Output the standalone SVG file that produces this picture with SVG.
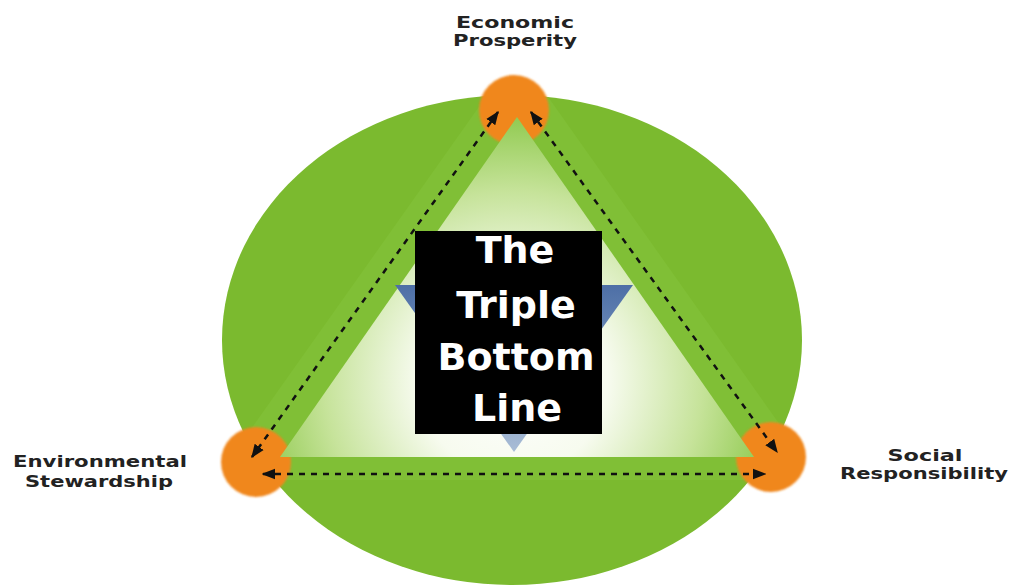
<svg xmlns="http://www.w3.org/2000/svg" width="1012" height="585" viewBox="0 0 1012 585">
  <style>
    .lbl { font-family: "DejaVu Sans", "Liberation Sans", sans-serif; font-weight: bold; font-size: 15px; fill: #222; text-anchor: middle; }
    .big { font-family: "DejaVu Sans", "Liberation Sans", sans-serif; font-weight: bold; font-size: 38px; fill: #ffffff; text-anchor: middle; }
    .orb { fill: #f0871f; }
    .dash { fill: none; stroke: #111; stroke-width: 2.5; stroke-dasharray: 6 6; marker-start: url(#ah); marker-end: url(#ah); }
  </style>
  <defs>
    <clipPath id="ellClip"><ellipse cx="512" cy="340" rx="290" ry="245"/></clipPath>
    <radialGradient id="triGrad" cx="513" cy="380" r="270" gradientUnits="userSpaceOnUse">
      <stop offset="0" stop-color="#ffffff"/>
      <stop offset="0.35" stop-color="#f7fbef"/>
      <stop offset="0.7" stop-color="#c6e39a"/>
      <stop offset="1" stop-color="#8cc84a"/>
    </radialGradient>
    <linearGradient id="blueGrad" x1="0" y1="0" x2="0" y2="1">
      <stop offset="0" stop-color="#4d6fa6"/>
      <stop offset="1" stop-color="#a9bdd6"/>
    </linearGradient>
    <filter id="soft" x="-20%" y="-20%" width="140%" height="140%"><feGaussianBlur stdDeviation="1.2"/></filter>
    <marker id="ah" viewBox="0 0 10 10" refX="9" refY="5" markerWidth="5.5" markerHeight="5.5" orient="auto-start-reverse" markerUnits="strokeWidth">
      <path d="M0,1 L10,5 L0,9 Z" fill="#111"/>
    </marker>
  </defs>

  <rect width="1012" height="585" fill="#ffffff"/>

  <g id="background">
    <ellipse cx="512" cy="340" rx="290" ry="245" fill="#7bba2f"/>
    <polygon points="517,53 215,480 819,480" fill="#80bf36" clip-path="url(#ellClip)"/>
  </g>

  <g id="node-economic">
    <circle class="orb" cx="514" cy="110" r="35" filter="url(#soft)"/>
    <text class="lbl" x="515" y="28" textLength="118" lengthAdjust="spacingAndGlyphs">Economic</text>
    <text class="lbl" x="515" y="46" textLength="124" lengthAdjust="spacingAndGlyphs">Prosperity</text>
  </g>

  <g id="node-environmental">
    <circle class="orb" cx="256" cy="462" r="35" filter="url(#soft)"/>
    <text class="lbl" x="100" y="467" textLength="174" lengthAdjust="spacingAndGlyphs">Environmental</text>
    <text class="lbl" x="99" y="487" textLength="148" lengthAdjust="spacingAndGlyphs">Stewardship</text>
  </g>

  <g id="node-social">
    <circle class="orb" cx="771" cy="457" r="35" filter="url(#soft)"/>
    <text class="lbl" x="925" y="461" textLength="75" lengthAdjust="spacingAndGlyphs">Social</text>
    <text class="lbl" x="924" y="479" textLength="168" lengthAdjust="spacingAndGlyphs">Responsibility</text>
  </g>

  <g id="triangle">
    <polygon points="517,117 280,457 754,457" fill="url(#triGrad)"/>
  </g>

  <g id="center">
    <polygon points="395,285 633,285 514,452" fill="url(#blueGrad)"/>
    <rect x="415" y="231" width="187" height="203" fill="#000000"/>
    <text class="big" x="515" y="263">The</text>
    <text class="big" x="516" y="318">Triple</text>
    <text class="big" x="516" y="370">Bottom</text>
    <text class="big" x="517" y="421">Line</text>
  </g>

  <g id="connectors">
    <line class="dash" x1="498" y1="112" x2="252" y2="457"/>
    <line class="dash" x1="531" y1="112" x2="777" y2="452"/>
    <line class="dash" x1="263" y1="474" x2="765" y2="474"/>
  </g>
</svg>
